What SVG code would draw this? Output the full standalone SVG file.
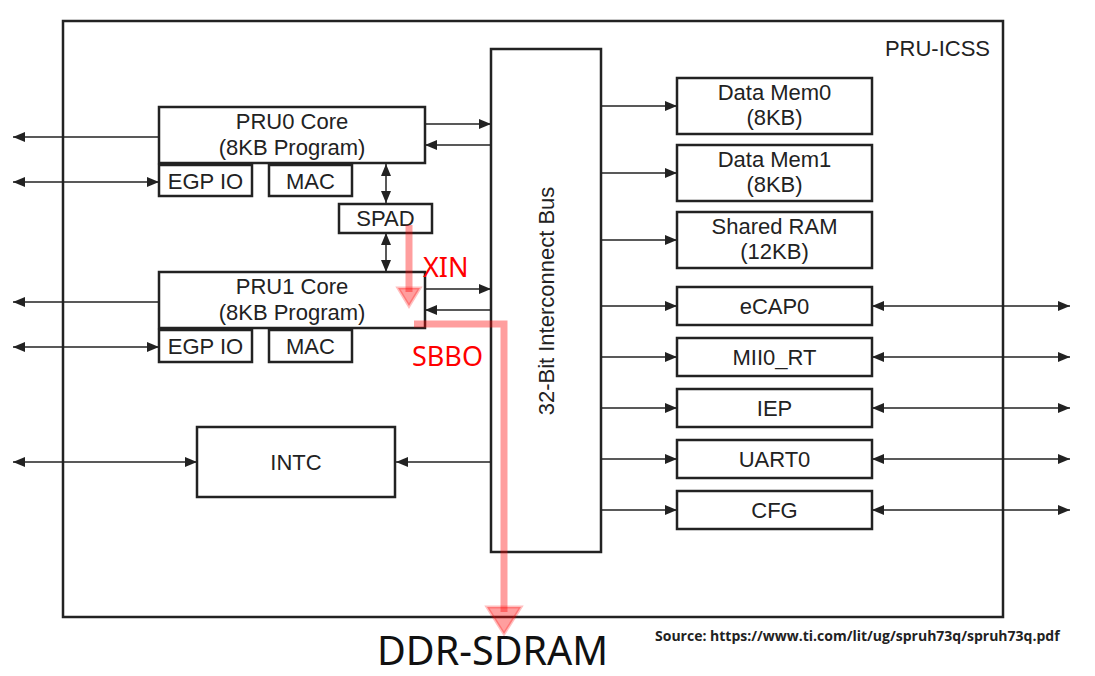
<svg xmlns="http://www.w3.org/2000/svg" width="1095" height="676" viewBox="0 0 1095 676">
<defs>
<marker id="ah" viewBox="0 0 12 10" refX="12" refY="5" markerWidth="12" markerHeight="10" markerUnits="userSpaceOnUse" orient="auto-start-reverse">
<path d="M0,0 L12,5 L0,10 Z" fill="#222"/>
</marker>
<style>
.box{fill:#fff;stroke:#222;stroke-width:2.5}
.frame{fill:none;stroke:#222;stroke-width:2.5}
.t{font-family:"Liberation Sans",Arial,sans-serif;font-size:22px;fill:#222;text-anchor:middle}
.c{stroke:#222;stroke-width:1.5;fill:none}
.one{marker-end:url(#ah)}
.two{marker-start:url(#ah);marker-end:url(#ah)}
.red{fill:none;stroke:#ff0000;stroke-opacity:0.38;stroke-width:7}
.redh{fill:#ff0000;fill-opacity:0.38;stroke:#ff0000;stroke-opacity:0.25;stroke-width:3;stroke-linejoin:miter}
.rt{font-family:"Noto Sans","DejaVu Sans",sans-serif;font-size:27px;fill:#ff0000}
</style>
</defs>
<rect width="1095" height="676" fill="#fff"/>
<g id="frame">
<rect class="frame" x="63" y="21" width="940" height="596"/>
<text class="t" x="990" y="56" style="text-anchor:end">PRU-ICSS</text>
</g>
<g id="connectors">
<line class="c one" x1="425" y1="124" x2="491" y2="124"/>
<line class="c one" x1="491" y1="145" x2="425" y2="145"/>
<line class="c one" x1="425" y1="289" x2="491" y2="289"/>
<line class="c one" x1="491" y1="310" x2="425" y2="310"/>
<line class="c one" x1="159" y1="137" x2="13" y2="137"/>
<line class="c two" x1="13" y1="182" x2="159" y2="182"/>
<line class="c one" x1="159" y1="302" x2="13" y2="302"/>
<line class="c two" x1="13" y1="347" x2="159" y2="347"/>
<line class="c two" x1="13" y1="462" x2="197" y2="462"/>
<line class="c one" x1="491" y1="462" x2="396" y2="462"/>
<line class="c two" x1="386" y1="164" x2="386" y2="203"/>
<line class="c two" x1="386" y1="233" x2="386" y2="272"/>
<line class="c one" x1="601" y1="106" x2="677" y2="106"/>
<line class="c one" x1="601" y1="173" x2="677" y2="173"/>
<line class="c one" x1="601" y1="240" x2="677" y2="240"/>
<line class="c one" x1="601" y1="306" x2="677" y2="306"/>
<line class="c one" x1="601" y1="357" x2="677" y2="357"/>
<line class="c one" x1="601" y1="408" x2="677" y2="408"/>
<line class="c one" x1="601" y1="459" x2="677" y2="459"/>
<line class="c one" x1="601" y1="510" x2="677" y2="510"/>
<line class="c two" x1="872" y1="306" x2="1070" y2="306"/>
<line class="c two" x1="872" y1="357" x2="1070" y2="357"/>
<line class="c two" x1="872" y1="408" x2="1070" y2="408"/>
<line class="c two" x1="872" y1="459" x2="1070" y2="459"/>
<line class="c two" x1="872" y1="510" x2="1070" y2="510"/>
</g>
<g id="bus">
<rect class="box" x="491" y="49" width="110" height="503"/>
<text class="t" transform="translate(554,301) rotate(-90)">32-Bit Interconnect Bus</text>
</g>
<g id="pru0">
<rect class="box" x="159" y="107" width="266" height="56"/>
<text class="t" x="292" y="129">PRU0 Core</text>
<text class="t" x="292" y="155">(8KB Program)</text>
</g>
<g id="egpio0"><rect class="box" x="159" y="165" width="93" height="31"/><text class="t" x="205.5" y="189">EGP IO</text></g>
<g id="mac0"><rect class="box" x="269" y="165" width="83" height="31"/><text class="t" x="310.5" y="189">MAC</text></g>
<g id="spad"><rect class="box" x="339" y="204" width="93" height="29"/><text class="t" x="385.5" y="226">SPAD</text></g>
<g id="pru1">
<rect class="box" x="159" y="272" width="266" height="56"/>
<text class="t" x="292" y="294">PRU1 Core</text>
<text class="t" x="292" y="320">(8KB Program)</text>
</g>
<g id="egpio1"><rect class="box" x="159" y="330" width="93" height="32"/><text class="t" x="205.5" y="354">EGP IO</text></g>
<g id="mac1"><rect class="box" x="269" y="330" width="83" height="32"/><text class="t" x="310.5" y="354">MAC</text></g>
<g id="intc"><rect class="box" x="197" y="427" width="198" height="70"/><text class="t" x="296" y="470">INTC</text></g>
<g id="datamem0"><rect class="box" x="677" y="78" width="195" height="56"/><text class="t" x="774.5" y="100">Data Mem0</text><text class="t" x="774.5" y="125">(8KB)</text></g>
<g id="datamem1"><rect class="box" x="677" y="145" width="195" height="56"/><text class="t" x="774.5" y="167">Data Mem1</text><text class="t" x="774.5" y="192">(8KB)</text></g>
<g id="sharedram"><rect class="box" x="677" y="212" width="195" height="56"/><text class="t" x="774.5" y="234">Shared RAM</text><text class="t" x="774.5" y="259">(12KB)</text></g>
<g id="ecap0"><rect class="box" x="677" y="287" width="195" height="38"/><text class="t" x="774.5" y="314">eCAP0</text></g>
<g id="mii0rt"><rect class="box" x="677" y="338" width="195" height="38"/><text class="t" x="774.5" y="365">MII0_RT</text></g>
<g id="iep"><rect class="box" x="677" y="389" width="195" height="38"/><text class="t" x="774.5" y="416">IEP</text></g>
<g id="uart0"><rect class="box" x="677" y="440" width="195" height="38"/><text class="t" x="774.5" y="467">UART0</text></g>
<g id="cfg"><rect class="box" x="677" y="491" width="195" height="38"/><text class="t" x="774.5" y="518">CFG</text></g>
<g id="overlay">
<path class="red" d="M409,225 V292"/>
<path class="redh" d="M398,288 L420,288 L409,306 Z"/>
<path class="red" d="M414,324 H504 V612"/>
<path class="redh" d="M487,607 L521,607 L504,634 Z"/>
<text class="rt" x="423" y="277">XIN</text>
<text class="rt" x="412" y="366">SBBO</text>
</g>
<g id="labels">
<text x="377" y="665" style="font-family:'Noto Sans','Open Sans',sans-serif;font-size:39.5px;fill:#111">DDR-SDRAM</text>
<text x="655" y="641" style="font-family:'Open Sans','Noto Sans',sans-serif;font-size:14px;font-weight:bold;fill:#222">Source: https://www.ti.com/lit/ug/spruh73q/spruh73q.pdf</text>
</g>
</svg>
